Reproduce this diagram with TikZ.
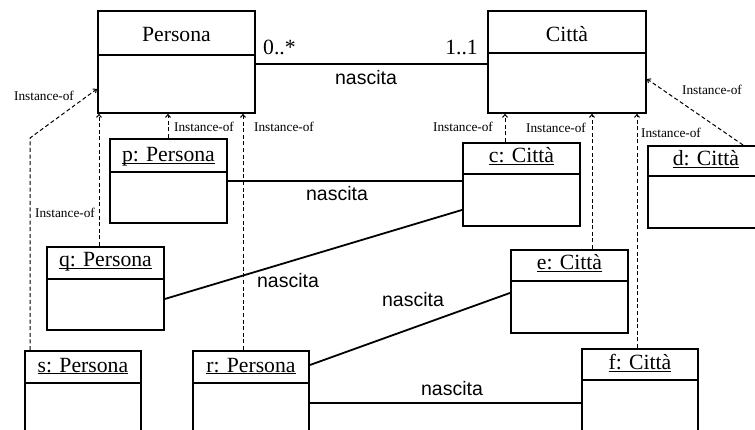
\documentclass[tikz,border=0pt]{standalone}
\usepackage{fontspec}
\setmainfont{Liberation Serif}
\newfontfamily\labelsans{Liberation Sans}
\usetikzlibrary{arrows.meta}

\tikzset{
  umlbox/.style={draw, line width=1.9pt, rectangle, inner sep=0pt, anchor=north west},
  titletext/.style={font=\fontsize{21.7}{26}\selectfont, inner sep=0pt, anchor=base},
  assoc/.style={line width=1.8pt},
  assoclabel/.style={font=\labelsans\fontsize{19.5}{23}\selectfont, inner sep=0pt, anchor=base},
  mult/.style={font=\fontsize{21.7}{26}\selectfont, inner sep=0pt},
  instof/.style={line width=1pt, dash pattern=on 4pt off 2.6pt,
                 -{Straight Barb[length=2.8pt,width=5pt]}},
  instlabel/.style={font=\fontsize{13.3}{16}\selectfont, inner sep=0pt, anchor=base},
}

% #1 name, #2 x, #3 y, #4 width, #5 height, #6 header height, #7 title baseline, #8 title
\newcommand\umlframe[8]{%
  \node[umlbox, minimum width=#4pt, minimum height=#5pt] (#1) at (#2,#3) {};
  \draw[line width=1.9pt] ([yshift=-#6pt]#1.north west) -- ([yshift=-#6pt]#1.north east);
  \node[titletext] (#1-title) at ([yshift=-#7pt]#1.north) {#8};
}
\newcommand\objname[1]{\underline{\smash{#1}}}

\begin{document}
\begin{tikzpicture}[x=1pt, y=-1pt]
  \useasboundingbox (0,0) rectangle (755,430);
  \clip (0,0) rectangle (755,430);

  % classes
  \umlframe{persona}{97}{10}{157}{102}{45}{32}{Persona}
  \umlframe{citta}{487}{10}{158}{102}{43}{32}{Città}

  % objects
  \umlframe{p}{109}{138}{117}{84}{34}{24}{\objname{p: Persona}}
  \umlframe{c}{462}{142}{117}{83}{32}{21}{\objname{c: Città}}
  \umlframe{d}{647}{145}{116}{82}{31}{21}{\objname{d: Città}}
  \umlframe{q}{46}{246}{117}{83}{33}{21}{\objname{q: Persona}}
  \umlframe{e}{510}{249}{117}{83}{32}{21}{\objname{e: Città}}
  \umlframe{s}{24}{350}{116}{100}{33}{22}{\objname{s: Persona}}
  \umlframe{r}{192}{350}{116}{100}{33}{22}{\objname{r: Persona}}
  \umlframe{f}{581}{348}{116}{100}{32}{22}{\objname{f: Città}}

  % class association
  \draw[assoc] ([yshift=-2pt]persona.east) -- ([yshift=-2pt]citta.west);
  \node[mult, anchor=base west] (mult-persona) at (263,55) {0..*};
  \node[mult, anchor=base east] (mult-citta) at (478,55) {1..1};
  \node[assoclabel] (lab-class) at (366,85) {nascita};

  % links between objects
  \draw[assoc] (p.east) -- (p.east -| c.west);
  \node[assoclabel] (lab-pc) at (337,201) {nascita};
  \draw[assoc] ([yshift=-10.5pt]q.east) -- ([yshift=-25.5pt]c.west);
  \node[assoclabel] (lab-qc) at (288,288) {nascita};
  \draw[assoc] ([yshift=-15pt]r.north east) -- ([yshift=-1.5pt]e.west);
  \node[assoclabel] (lab-re) at (413,307) {nascita};
  \draw[assoc] ([yshift=-53pt]r.north east) coordinate (rf) -- (rf -| f.west);
  \node[assoclabel] (lab-rf) at (452,395) {nascita};

  % instance-of dependencies
  \coordinate (sbend) at (30,138);
  \draw[instof] ([xshift=6pt]s.north west) -- (sbend) -- ([yshift=-27pt]persona.west);
  \node[instlabel] (io-s) at (44,101) {Instance-of};

  \draw[instof] ([xshift=53pt]q.north west) coordinate (qa) -- (qa |- persona.south);
  \node[instlabel] (io-q) at (65,218) {Instance-of};

  \draw[instof] ([xshift=59pt]p.north west) coordinate (pa) -- (pa |- persona.south);
  \node[instlabel] (io-p) at (204,132) {Instance-of};

  \draw[instof] ([xshift=51pt]r.north west) coordinate (ra) -- (ra |- persona.south);
  \node[instlabel] (io-r) at (284,132) {Instance-of};

  \draw[instof] ([xshift=43pt]c.north west) coordinate (ca) -- (ca |- citta.south);
  \node[instlabel] (io-c) at (463,132) {Instance-of};

  \draw[instof] ([xshift=82pt]e.north west) coordinate (ea) -- (ea |- citta.south);
  \node[instlabel] (io-e) at (556,133) {Instance-of};

  \draw[instof] ([xshift=56pt]f.north west) coordinate (fa) -- (fa |- citta.south);
  \node[instlabel] (io-f) at (671,138) {Instance-of};

  \draw[instof] ([xshift=96pt]d.north west) -- ([yshift=-17pt]citta.east);
  \node[instlabel] (io-d) at (712,95) {Instance-of};
\end{tikzpicture}
\end{document}
